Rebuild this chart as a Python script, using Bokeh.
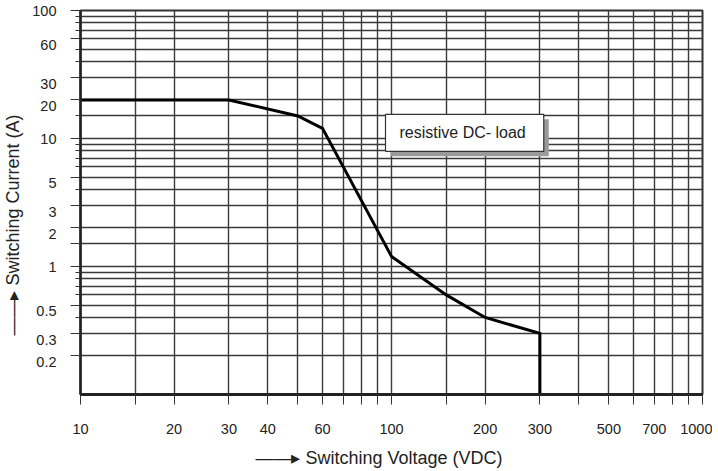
from bokeh.plotting import figure
from bokeh.models import FixedTicker, Label, Range1d
from bokeh.embed import file_html
from bokeh.resources import INLINE

# ---- data ----
voltage = [10, 30, 50, 60, 100, 150, 200, 300, 300]
current = [20, 20, 15, 12, 1.2, 0.6, 0.4, 0.3, 0.1]

x_labeled = [10, 20, 30, 40, 60, 100, 200, 300, 500, 700, 1000]
x_labels = ["10", "20", "30", "40", "60", "100", "200", "300", "500", "700", "1000"]
x_unlabeled = [15, 50, 70, 80, 90, 150, 400, 600, 800, 900]

y_labeled = [100, 60, 30, 20, 10, 5, 3, 2, 1.5, 1, 0.5, 0.3, 0.2]
y_labels = ["100", "60", "30", "20", "10", "5", "3", "2", "", "1", "0.5", "0.3", "0.2"]
y_unlabeled = [90, 80, 70, 50, 40, 15, 9, 8, 7, 6, 4, 0.9, 0.8, 0.7, 0.6, 0.4]

note_text = "resistive DC- load"
note_x, note_y = 100, 16

FONT = "Liberation Sans"
TXT = "#222222"
GRID = "#3a3a3a"

p = figure(x_axis_type="log", y_axis_type="log",
           x_range=Range1d(10, 1000), y_range=Range1d(0.1, 100),
           width=712, height=470,
           min_border_top=10, min_border_right=10, min_border_left=78, min_border_bottom=76,
           output_backend="svg", toolbar_location=None)
p.outline_line_color = "#333333"
p.outline_line_width = 2

# x axis
xa = p.xaxis[0]
xa.ticker = FixedTicker(ticks=x_labeled, minor_ticks=x_unlabeled)
xa.major_label_overrides = {v: s for v, s in zip(x_labeled, x_labels)}
xa.major_tick_out = 10
xa.major_tick_in = 0
xa.minor_tick_out = 10
xa.minor_tick_in = 0
xa.axis_line_width = 3
xa.axis_line_color = "#222222"
xa.major_tick_line_color = "#333333"
xa.minor_tick_line_color = "#333333"
xa.major_label_standoff = 19
xa.major_label_text_font = FONT
xa.major_label_text_font_size = "14.5px"
xa.major_label_text_color = TXT
xa.axis_label = "\u2014\u2014\u25b8 Switching Voltage (VDC)     "
xa.axis_label_text_font = FONT
xa.axis_label_text_font_size = "18px"
xa.axis_label_text_font_style = "normal"
xa.axis_label_text_color = TXT
xa.axis_label_standoff = 11

# y axis: decade labels sit on their tick, the others hang just below it
decades = {"100", "10", "1"}
ya = p.yaxis[0]
ya.ticker = FixedTicker(ticks=y_labeled, minor_ticks=y_unlabeled)
ya.major_label_overrides = {v: (s if (s in decades or not s) else "\n" + s)
                            for v, s in zip(y_labeled, y_labels)}
ya.major_tick_out = 10
ya.major_tick_in = 0
ya.minor_tick_out = 5
ya.minor_tick_in = 0
ya.axis_line_width = 2.5
ya.axis_line_color = "#222222"
ya.major_tick_line_color = "#333333"
ya.minor_tick_line_color = "#333333"
ya.major_label_standoff = 14
ya.major_label_text_font = FONT
ya.major_label_text_font_size = "14.5px"
ya.major_label_text_line_height = 0.8
ya.major_label_text_color = TXT
ya.axis_label = "\u2014\u2014\u25b8 Switching Current (A)         "
ya.axis_label_text_font = FONT
ya.axis_label_text_font_size = "18px"
ya.axis_label_text_font_style = "normal"
ya.axis_label_text_color = TXT
ya.axis_label_standoff = 6

for g in (p.xgrid[0], p.ygrid[0]):
    g.grid_line_color = GRID
    g.grid_line_width = 1.4
    g.minor_grid_line_color = GRID
    g.minor_grid_line_width = 1.4

# curve
p.line(voltage, current, line_color="black", line_width=3, line_join="miter")

# note box with shadow
pad = dict(left=14, right=18, top=10, bottom=10)
shadow = Label(x=note_x, y=note_y, text=note_text, x_offset=-1, y_offset=-7,
               anchor="top_left", text_font=FONT, text_font_size="16px",
               text_color=(0, 0, 0, 0), background_fill_color="#9a9a9a", padding=pad)
note = Label(x=note_x, y=note_y, text=note_text, x_offset=-6, y_offset=-2,
             anchor="top_left", text_font=FONT, text_font_size="16px",
             text_color=TXT, background_fill_color="white",
             border_line_color="#333333", border_line_width=1.2, padding=pad)
p.add_layout(shadow)
p.add_layout(note)

open("out.html", "w").write(file_html(p, INLINE))
